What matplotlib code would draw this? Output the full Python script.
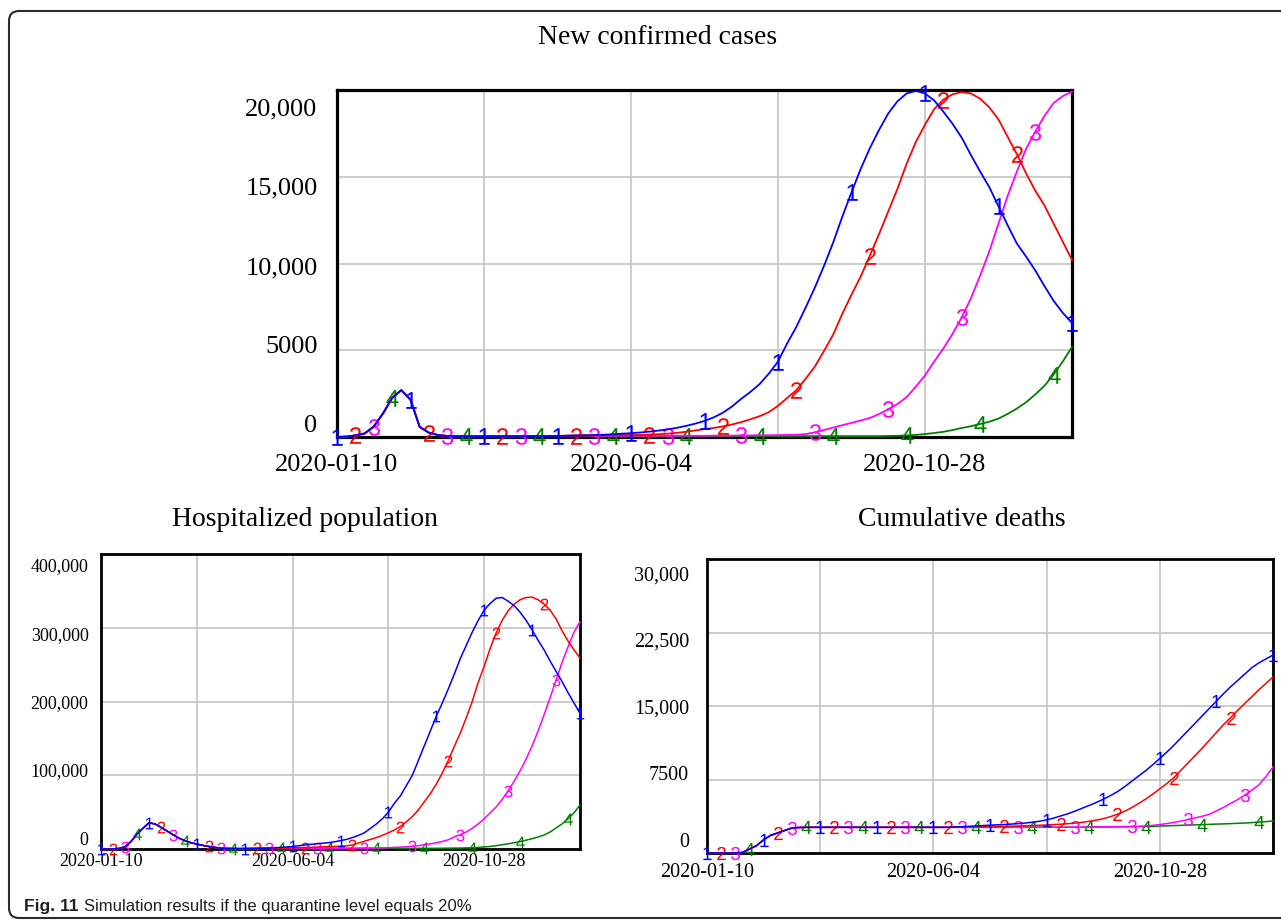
"""
Quarantine level 20% scenario: new cases, hospitalized and cumulative deaths
for the four simulation runs (tagged 1-4 on the curves, Vensim style).
"""
import matplotlib
matplotlib.use("Agg")
import matplotlib.pyplot as plt
import numpy as np
from matplotlib.patches import FancyBboxPatch
from matplotlib.transforms import IdentityTransform, ScaledTranslation

W, H, DPI = 1281, 923, 100
SERIF = ["Liberation Serif", "DejaVu Serif"]
CAPTION_FONT = ["Liberation Sans", "DejaVu Sans"]

# curve tags ("$1$" markers) drawn in an Arial-like face
plt.rcParams["mathtext.fontset"] = "custom"
plt.rcParams["mathtext.rm"] = "Liberation Sans"
plt.rcParams["mathtext.it"] = "Liberation Sans"

COLORS = ["#0000ff", "#ff0000", "#ff00ff", "#008000"]
TAGS = ["1", "2", "3", "4"]

# day 0 = 2020-01-10, one sample every 365/80 days
DAYS = np.linspace(0, 365, 81)
X_GRID = [0, 73, 146, 219, 292, 365]
X_LABELS = ["2020-01-10", "", "2020-06-04", "", "2020-10-28", ""]

# ---- new confirmed cases ----
NEW_EARLY = [0, 20, 90, 200, 600, 1350, 2250, 2700, 2150, 580, 250, 110, 60, 40,
             40, 40, 40, 40, 40, 40, 40, 50, 50, 50, 60, 70, 80, 90]
NEW_1 = NEW_EARLY + [
    110, 130, 160, 190, 220, 260, 310, 370, 440, 530,
    640, 770, 930, 1130, 1400, 1760, 2200, 2600, 3050, 3650,
    4350, 5400, 6350, 7450, 8600, 9850, 11200, 12700, 14100, 15450,
    16650, 17700, 18650, 19350, 19800, 19950, 19800, 19400, 18750, 18050,
    17250, 16250, 15300, 14400, 13300, 12200, 11150, 10400, 9600, 8700,
    7850, 7150, 6570]
NEW_2 = NEW_EARLY + [
    100, 100, 100, 110, 110, 120, 140, 160, 190, 240,
    300, 380, 450, 520, 610, 720, 860, 1020, 1200, 1430,
    1800, 2250, 2700, 3350, 4050, 4950, 5900, 7100, 8200, 9250,
    10450, 11700, 13000, 14300, 15750, 17000, 18000, 18900, 19450, 19750,
    19880, 19800, 19500, 19000, 18300, 17300, 16300, 15200, 14200, 13350,
    12300, 11250, 10200]
NEW_3 = NEW_EARLY + [
    70, 70, 70, 70, 70, 70, 70, 70, 70, 70,
    70, 70, 70, 80, 80, 80, 90, 90, 100, 100,
    110, 120, 130, 170, 260, 400, 540, 680, 810, 950,
    1100, 1320, 1600, 1900, 2300, 2900, 3550, 4350, 5100, 5950,
    6900, 8000, 9300, 10700, 12300, 13900, 15300, 16600, 17600, 18500,
    19250, 19650, 19900]
NEW_4 = NEW_EARLY + [50] * 32 + [
    60, 70, 90, 120, 170, 230, 300, 400, 520, 620,
    750, 880, 1060, 1330, 1640, 2000, 2450, 2950, 3600, 4350, 5190]

# ---- hospitalized population ----
HOSP_EARLY = [0, 0, 200, 700, 3000, 10000, 20000, 28000, 35500, 34000,
              29500, 24500, 19500, 14800, 11300, 8600, 6600, 4900, 3400, 2200,
              1100, 800, 600, 550, 600, 700, 800, 1000]
HOSP_1 = HOSP_EARLY + [
    1300, 1700, 2200, 2800, 3500, 4400, 5400, 6300, 7100, 7800,
    8500, 9800, 11300, 13000, 15500, 18500, 22000, 28000, 34000, 41000,
    50000, 62000, 72000, 86000, 100000, 120000, 140000, 160000, 180000, 198000,
    217000, 237000, 258000, 276000, 294000, 310000, 324000, 333000, 340000, 341000,
    336000, 330000, 321000, 310000, 297000, 283000, 270000, 255000, 241000, 227000,
    212000, 198000, 184000]
HOSP_2 = HOSP_EARLY + [
    1100, 1200, 1300, 1400, 1600, 1800, 2000, 2300, 2600, 2900,
    3200, 3500, 3800, 4200, 5500, 8000, 10500, 13000, 15500, 18500,
    22000, 25800, 30500, 37000, 44000, 53000, 64000, 75000, 88000, 103000,
    120000, 139000, 157000, 178000, 200000, 226000, 248000, 272000, 293000, 310000,
    323000, 332000, 338000, 341000, 341500, 338000, 332000, 324000, 312000, 296000,
    282000, 270000, 259000]
HOSP_3 = HOSP_EARLY + [
    900, 900, 900, 900, 900, 900, 900, 900, 900, 900,
    900, 900, 900, 900, 1000, 1000, 1100, 1200, 1300, 1500,
    1800, 2100, 2500, 3000, 3700, 4600, 5800, 7000, 8500, 10200,
    12500, 16500, 19500, 23000, 28000, 34000, 41000, 49000, 57000, 67000,
    79000, 92000, 106000, 122000, 140000, 160000, 182000, 205000, 229000, 253000,
    274000, 294000, 308000]
HOSP_4 = HOSP_EARLY + [900] * 28 + [950, 1000, 1100, 1200, 1300] + [
    1500, 1800, 2200, 2800, 3500, 4500, 5800, 7000, 8500, 10000,
    12000, 14000, 16300, 19000, 23000, 28500, 34000, 41000, 49000, 59700]

# ---- cumulative deaths ----
DEATH_EARLY = [0, 0, 0, 0, 0, 50, 400, 750, 1350, 1800, 2050, 2300, 2550, 2600] + [2620] * 20
DEATH_1 = DEATH_EARLY + [
    2620, 2650, 2680, 2720, 2760, 2800, 2840, 2870, 2910, 2950,
    3000, 3060, 3140, 3240, 3380, 3560, 3780, 4000, 4270, 4560,
    4850, 5150, 5480, 5850, 6250, 6750, 7300, 7850, 8400, 9000,
    9650, 10300, 11000, 11750, 12500, 13250, 14000, 14750, 15500, 16250,
    16950, 17600, 18250, 18900, 19400, 19800, 20200]
DEATH_2 = DEATH_EARLY + [
    2620, 2630, 2640, 2650, 2660, 2680, 2700, 2710, 2720, 2740,
    2760, 2780, 2800, 2830, 2860, 2900, 2940, 2990, 3050, 3130,
    3230, 3350, 3500, 3700, 3950, 4250, 4620, 5050, 5500, 6000,
    6550, 7100, 7700, 8450, 9200, 9950, 10700, 11500, 12300, 13100,
    13800, 14550, 15250, 15950, 16650, 17300, 17960]
DEATH_3 = DEATH_EARLY + [2620] * 10 + [2630] * 10 + [
    2650, 2660, 2670, 2680, 2690, 2700, 2710,
    2720, 2760, 2820, 2900, 3000, 3120, 3260, 3420, 3580, 3750,
    3950, 4300, 4650, 5050, 5450, 5900, 6400, 6950, 7800, 8780]
DEATH_4 = DEATH_EARLY + [2620] * 10 + [2630] * 10 + [
    2650, 2655, 2660, 2665, 2670, 2675, 2680, 2685, 2690, 2700,
    2750, 2770, 2800, 2820, 2850, 2870, 2890, 2920,
    2950, 2970, 3000, 3030, 3060, 3100, 3150, 3200, 3270]

NEW_TICKS = [0, 5000, 10000, 15000, 20000]
NEW_TICK_LABELS = ["0", "5000", "10,000", "15,000", "20,000"]
HOSP_TICKS = [0, 100000, 200000, 300000, 400000]
HOSP_TICK_LABELS = ["0", "100,000", "200,000", "300,000", "400,000"]
DEATH_TICKS = [0, 7500, 15000, 22500, 30000]
DEATH_TICK_LABELS = ["0", "7500", "15,000", "22,500", "30,000"]


def px_rect(left, top, right, bottom):
    """axes rect in figure fractions from pixel edges (origin top-left)"""
    return [left / W, 1 - bottom / H, (right - left) / W, (bottom - top) / H]


def panel(fig, rect, series, ticks, tick_labels, fs, ms, lw, spine_lw,
          label_span, xpad, ypad):
    ax = fig.add_axes(rect)
    for i in (3, 2, 1, 0):
        ax.plot(DAYS, series[i], color=COLORS[i], lw=lw, marker=f"${TAGS[i]}$",
                markevery=(2 * i, 8), ms=ms, mew=0, zorder=6 - i, clip_on=False)
    ax.set_xlim(0, 365)
    ax.set_ylim(ticks[0], ticks[-1])
    ax.set_xticks(X_GRID)
    ax.set_xticklabels(X_LABELS, family=SERIF, fontsize=fs)
    ax.set_yticks(ticks)
    ax.set_yticklabels(tick_labels, family=SERIF, fontsize=fs)
    ax.tick_params(length=0)
    ax.tick_params(axis="x", pad=xpad)
    ax.tick_params(axis="y", pad=ypad)
    ax.grid(color="#c8c8c8", lw=1.3)
    ax.set_axisbelow(True)
    for sp in ax.spines.values():
        sp.set_linewidth(spine_lw)
        sp.set_color("black")
        sp.set_zorder(2.5)
    # Vensim squeezes the value labels a bit inside the plot height
    a0, a1 = label_span
    h_in = rect[3] * H / DPI
    n = len(ticks) - 1
    for k, lab in enumerate(ax.get_yticklabels()):
        f = k / n
        dy = (a0 + (a1 - a0) * f - f) * h_in
        lab.set_transform(lab.get_transform() + ScaledTranslation(0, dy, fig.dpi_scale_trans))
    return ax


def main() -> None:
    fig = plt.figure(figsize=(W / DPI, H / DPI), dpi=DPI)

    frame = FancyBboxPatch((9, 5), 1320, 907, boxstyle="round,pad=0,rounding_size=10",
                           transform=IdentityTransform(), fill=False,
                           ec="#2b2b2b", lw=1.5)
    fig.add_artist(frame)

    panel(fig, px_rect(337, 90, 1072, 437), [NEW_1, NEW_2, NEW_3, NEW_4],
          NEW_TICKS, NEW_TICK_LABELS, fs=19, ms=12, lw=1.3, spine_lw=2.3,
          label_span=(0.0375, 0.951), xpad=12, ypad=14)
    panel(fig, px_rect(101, 554, 580, 849), [HOSP_1, HOSP_2, HOSP_3, HOSP_4],
          HOSP_TICKS, HOSP_TICK_LABELS, fs=13, ms=8.5, lw=1.1, spine_lw=2.0,
          label_span=(0.037, 0.963), xpad=3, ypad=9)
    panel(fig, px_rect(707, 559, 1273, 853), [DEATH_1, DEATH_2, DEATH_3, DEATH_4],
          DEATH_TICKS, DEATH_TICK_LABELS, fs=14.5, ms=9.5, lw=1.1, spine_lw=2.0,
          label_span=(0.044, 0.952), xpad=7, ypad=13)

    fig.text(658 / W, 1 - 38 / H, "New confirmed cases", ha="center", va="center",
             family=SERIF, fontsize=20)
    fig.text(305 / W, 1 - 520 / H, "Hospitalized population", ha="center", va="center",
             family=SERIF, fontsize=20)
    fig.text(962 / W, 1 - 520 / H, "Cumulative deaths", ha="center", va="center",
             family=SERIF, fontsize=20)

    cap = fig.text(24 / W, 1 - 907 / H, "Fig. 11", ha="left", va="center",
                   family=CAPTION_FONT, fontsize=12.5, weight="bold", color="#231f20")
    fig.canvas.draw()
    bb = cap.get_window_extent()
    fig.text((bb.x1 + 5) / W, 1 - 907 / H,
             "Simulation results if the quarantine level equals 20%",
             ha="left", va="center", family=CAPTION_FONT, fontsize=12, color="#231f20")

    fig.savefig("out.png", dpi=DPI)
    print("saved figure: out.png", flush=True)


if __name__ == "__main__":
    main()
